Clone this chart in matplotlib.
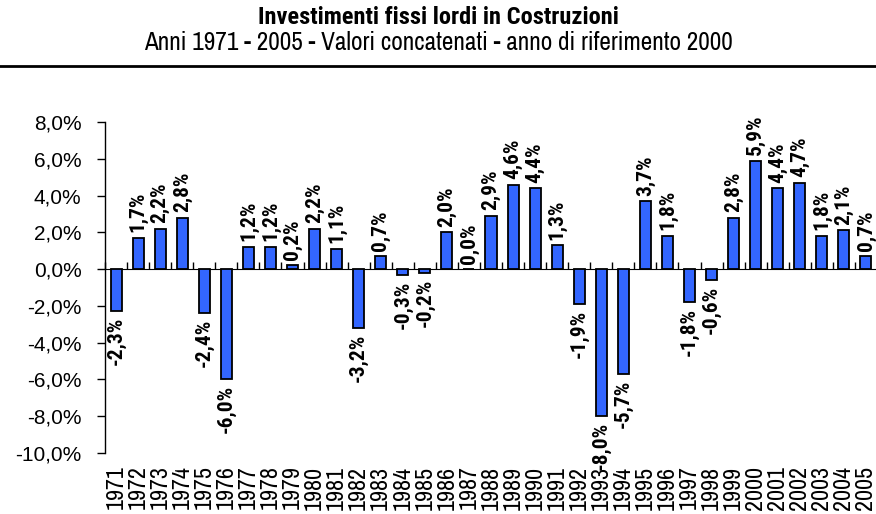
import matplotlib
matplotlib.use("Agg")
import matplotlib.pyplot as plt
from matplotlib import font_manager
import numpy as np

years = [str(y) for y in range(1971, 2006)]
values = [-2.3, 1.7, 2.2, 2.8, -2.4, -6.0, 1.2, 1.2, 0.2, 2.2, 1.1, -3.2, 0.7,
          -0.3, -0.2, 2.0, 0.0, 2.9, 4.6, 4.4, 1.3, -1.9, -8.0, -5.7, 3.7, 1.8,
          -1.8, -0.6, 2.8, 5.9, 4.4, 4.7, 1.8, 2.1, 0.7]
yticks = [-10, -8, -6, -4, -2, 0, 2, 4, 6, 8]

title = "Investimenti fissi lordi in Costruzioni"
subtitle = "Anni 1971 - 2005 - Valori concatenati - anno di riferimento 2000"

cands = ["Liberation Sans Narrow", "Arial Narrow", "Archivo Narrow",
         "Roboto Condensed", "PT Sans Narrow", "IBM Plex Sans Condensed",
         "Open Sans Condensed"]
weights = {}
for f in font_manager.fontManager.ttflist:
    w = f.weight if isinstance(f.weight, int) else (700 if str(f.weight) == 'bold' else 400)
    weights.setdefault(f.name, set()).add(w)


def pick(minw, maxw):
    for c in cands:
        if c in weights and any(minw <= w <= maxw for w in weights[c]):
            return c
    return "Liberation Sans"


reg_font = pick(400, 400)
bold_font = pick(650, 800)
NF = [reg_font, 'Liberation Sans', 'DejaVu Sans']
BF = [bold_font, 'Liberation Sans', 'DejaVu Sans']
plt.rcParams['font.family'] = ['Liberation Sans', 'DejaVu Sans']

fig = plt.figure(figsize=(8.76, 5.14), dpi=100)
ax = fig.add_axes([105/876, 1-453/514, 772/876, (453-122)/514])


def fit(artist, target_px, rotated=False):
    fig.canvas.draw()
    bb = artist.get_window_extent()
    cur = bb.height if rotated else bb.width
    if cur > 0:
        artist.set_fontsize(artist.get_fontsize() * target_px / cur)


x = np.arange(len(years))
ax.bar(x, values, width=0.5, color="#3366ff", edgecolor="black", linewidth=1.3, zorder=3)

ax.set_xlim(-0.5, len(years) - 0.5)
ax.set_ylim(-10, 8)
ax.set_yticks(yticks)
ax.set_yticklabels([f"{v:.1f}%".replace(".", ",") for v in yticks], fontsize=15)
ax.tick_params(axis='y', direction='out', length=6, width=1, pad=11)

for s in ['top', 'right', 'bottom']:
    ax.spines[s].set_visible(False)
ax.spines['left'].set_linewidth(1)

# year labels at bottom
ax.set_xticks(x)
ax.set_xticklabels(years, rotation=90, fontsize=13, va='top', family=NF)
ax.tick_params(axis='x', length=0, pad=9)

# zero axis with boundary ticks
sec = ax.secondary_xaxis(10/18)
sec.set_xticks(np.arange(len(years) + 1) - 0.5)
sec.set_xticklabels([])
sec.tick_params(axis='x', direction='out', length=5, width=1)
sec.spines['bottom'].set_linewidth(1)

labels = []
for xi, v in zip(x, values):
    lab = f"{v:.1f}%".replace(".", ",")
    off = 4 if v >= 0 else -4
    t = ax.annotate(lab, (xi, v), xytext=(0, off), textcoords='offset points',
                    rotation=90, ha='center', va='bottom' if v >= 0 else 'top',
                    fontsize=13, fontweight='bold', family=BF)
    labels.append(t)

t1 = fig.text(0.5, 1-18/514, title, ha='center', va='center', fontsize=15,
              fontweight='bold', family=BF)
t2 = fig.text(0.5, 1-42/514, subtitle, ha='center', va='center', fontsize=15,
              family=NF)
fig.add_artist(plt.Line2D([0, 1], [1-66/514, 1-66/514], transform=fig.transFigure,
                          color='black', linewidth=2))

# size the texts to the widths seen in the reference
fit(t1, 362)
fit(t2, 590)
fit(labels[0], 48, rotated=True)
for t in labels[1:]:
    t.set_fontsize(labels[0].get_fontsize())
xt = ax.get_xticklabels()
fit(xt[0], 44, rotated=True)
for t in xt[1:]:
    t.set_fontsize(xt[0].get_fontsize())

fig.savefig("out.png", dpi=100)
